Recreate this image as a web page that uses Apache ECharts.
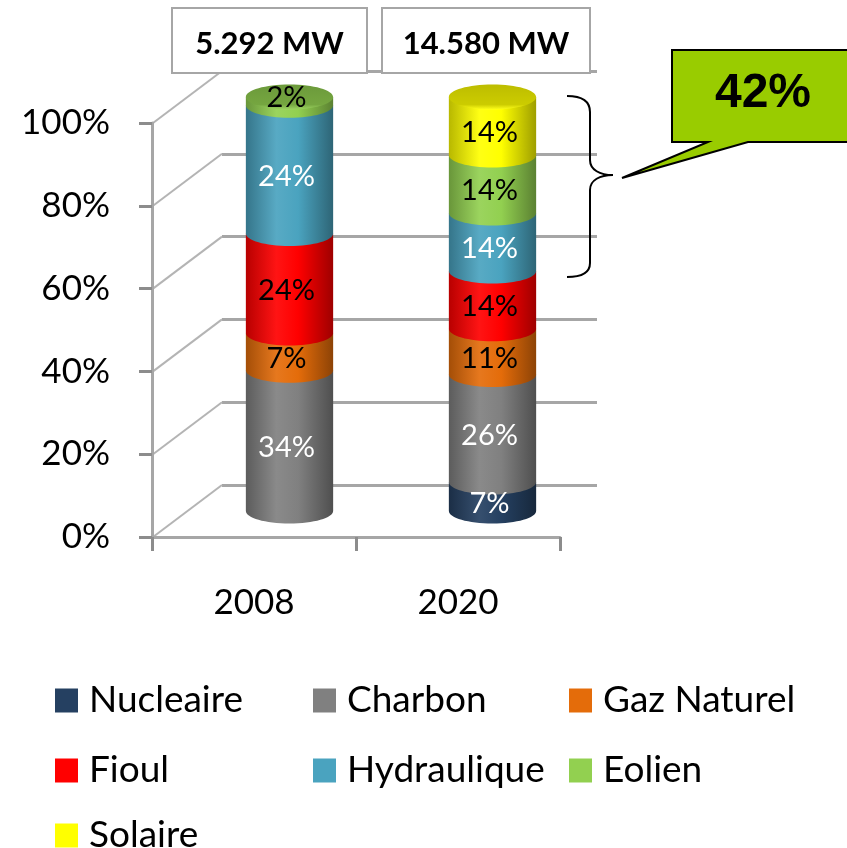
<!DOCTYPE html>
<html>
<head>
<meta charset="utf-8">
<script src="https://cdn.jsdelivr.net/npm/echarts@6/dist/echarts.min.js"></script>
<style>
html, body { margin: 0; padding: 0; background: #fff; }
#main { width: 847px; height: 848px; }
</style>
</head>
<body>
<div id="main"></div>
<script>
var years = ['2008', '2020'];
var sources = ['Nucleaire', 'Charbon', 'Gaz Naturel', 'Fioul', 'Hydraulique', 'Eolien', 'Solaire'];

// height of each slice (% of the bar)
var nucleaire   = [0, 7];
var charbon     = [34, 26];
var gazNaturel  = [9, 11];
var fioul       = [24, 14];
var hydraulique = [31, 14];
var eolien      = [2, 14];
var solaire     = [0, 14];

// percentages printed on the slices
var labels2008 = ['', '34%', '7%', '24%', '24%', '2%', ''];
var labels2020 = ['7%', '26%', '11%', '14%', '14%', '14%', '14%'];

var capacity = ['5.292 MW', '14.580 MW'];
var yTicks = [0, 20, 40, 60, 80, 100];

var colors = ['#254061', '#808080', '#e46c0a', '#ff0000', '#4aa3bf', '#92d050', '#ffff00'];
var labelColors = ['#fff', '#fff', '#000', '#000', '#fff', '#000', '#000'];

var seriesValues = [nucleaire, charbon, gazNaturel, fioul, hydraulique, eolien, solaire];
var printed = [labels2008, labels2020];
var totals = years.map(function (y, j) {
    return seriesValues.reduce(function (s, a) { return s + a[j]; }, 0);
});
var renew2020 = hydraulique[1] + eolien[1] + solaire[1];

function mix(hex, target, t) {
    var n = parseInt(hex.slice(1), 16);
    var c = [(n >> 16) & 255, (n >> 8) & 255, n & 255].map(function (v) {
        return Math.round(v + (target - v) * t);
    });
    return 'rgb(' + c.join(',') + ')';
}
function shade(hex, f) { return mix(hex, 0, 1 - f); }
function light(hex, t) { return mix(hex, 255, t); }

var K = 0.5523;
function bodyPath(cx, yTop, yBot, rx, ry) {
    return 'M' + (cx - rx) + ',' + yTop + ' L' + (cx - rx) + ',' + yBot +
        ' C' + (cx - rx) + ',' + (yBot + K * ry) + ' ' + (cx - K * rx) + ',' + (yBot + ry) + ' ' + cx + ',' + (yBot + ry) +
        ' C' + (cx + K * rx) + ',' + (yBot + ry) + ' ' + (cx + rx) + ',' + (yBot + K * ry) + ' ' + (cx + rx) + ',' + yBot +
        ' L' + (cx + rx) + ',' + yTop + ' Z';
}
function ellipsePath(cx, cy, rx, ry) {
    return 'M' + (cx - rx) + ',' + cy +
        ' C' + (cx - rx) + ',' + (cy - K * ry) + ' ' + (cx - K * rx) + ',' + (cy - ry) + ' ' + cx + ',' + (cy - ry) +
        ' C' + (cx + K * rx) + ',' + (cy - ry) + ' ' + (cx + rx) + ',' + (cy - K * ry) + ' ' + (cx + rx) + ',' + cy +
        ' C' + (cx + rx) + ',' + (cy + K * ry) + ' ' + (cx + K * rx) + ',' + (cy + ry) + ' ' + cx + ',' + (cy + ry) +
        ' C' + (cx - K * rx) + ',' + (cy + ry) + ' ' + (cx - rx) + ',' + (cy + K * ry) + ' ' + (cx - rx) + ',' + cy + ' Z';
}

function makeRender(i) {
    return function (params, api) {
        var j = api.value(0), lo = api.value(1), hi = api.value(2);
        if (hi - lo <= 0) return null;
        var pLo = api.coord([j, lo]);
        var pHi = api.coord([j, hi]);
        var rx = api.size([1, 0])[0] * 0.215;
        var ry = 12.5;
        var cx = pLo[0];
        var c = colors[i];
        var grad = new echarts.graphic.LinearGradient(0, 0, 1, 0, [
            { offset: 0, color: shade(c, 0.72) },
            { offset: 0.35, color: light(c, 0.08) },
            { offset: 0.6, color: c },
            { offset: 1, color: shade(c, 0.62) }
        ]);
        var kids = [{
            type: 'path',
            shape: { pathData: bodyPath(cx, pHi[1], pLo[1], rx, ry) },
            style: { fill: grad }
        }];
        if (hi >= totals[j] - 0.001) {
            kids.push({
                type: 'path',
                shape: { pathData: ellipsePath(cx, pHi[1], rx, ry) },
                style: {
                    fill: new echarts.graphic.LinearGradient(0, 0, 0, 1, [
                        { offset: 0, color: shade(c, 0.74) },
                        { offset: 0.8, color: shade(c, 0.8) },
                        { offset: 1, color: light(c, 0.1) }
                    ])
                }
            });
        }
        var txt = printed[j][i];
        if (txt) {
            var h = pLo[1] - pHi[1];
            kids.push({
                type: 'text',
                z2: 100,
                x: cx - 3,
                y: h < 20 ? pHi[1] + 1 : (pLo[1] + pHi[1]) / 2 + 7,
                style: {
                    text: txt, fill: labelColors[i],
                    fontSize: 29, fontFamily: 'Lato',
                    align: 'center', verticalAlign: 'middle'
                }
            });
        }
        return { type: 'group', children: kids };
    };
}

var series = sources.map(function (name, i) {
    var data = years.map(function (y, j) {
        var lo = 0;
        for (var k = 0; k < i; k++) lo += seriesValues[k][j];
        return [j, lo, lo + seriesValues[i][j]];
    });
    return {
        type: 'custom',
        name: name,
        xAxisIndex: 1,
        yAxisIndex: 1,
        itemStyle: { color: colors[i] },
        encode: { x: 0, y: [1, 2] },
        renderItem: makeRender(i),
        data: data
    };
});

var legendPos = [[55, 697], [313, 697], [569, 697], [55, 767], [313, 767], [569, 767], [55, 832]];
var legends = sources.map(function (s, i) {
    return {
        data: [s],
        left: legendPos[i][0],
        top: legendPos[i][1] - 15,
        padding: 0,
        itemWidth: 23,
        itemHeight: 24,
        icon: 'rect',
        selectedMode: false,
        textStyle: { fontSize: 37, fontFamily: 'Lato', color: '#000', lineHeight: 24, padding: [0, 0, 0, 6] }
    };
});

var gray = '#a6a6a6';
var chart = echarts.init(document.getElementById('main'));
chart.setOption({
    animation: false,
    backgroundColor: '#fff',
    grid: [
        { left: 152, top: 123, width: 408, height: 414, outerBoundsMode: 'none' },   // front plane (axes)
        { left: 188, top: 97, width: 406, height: 414, outerBoundsMode: 'none' },    // cylinders
        { left: 222, top: 71, width: 375, height: 414, outerBoundsMode: 'none' }     // back wall
    ],
    xAxis: [
        {
            gridIndex: 0, type: 'category', data: years,
            axisLine: { show: true, lineStyle: { color: gray, width: 3 } },
            axisTick: { show: true, length: 14, lineStyle: { color: '#8c8c8c', width: 3 } },
            axisLabel: { fontSize: 35, fontFamily: 'Lato', color: '#000', margin: 48 }
        },
        { gridIndex: 1, type: 'category', data: years, show: false },
        { gridIndex: 2, type: 'category', data: years, show: false }
    ],
    yAxis: [
        {
            gridIndex: 0, type: 'value', min: 0, max: 100, interval: 20,
            axisLine: { show: true, lineStyle: { color: gray, width: 3 } },
            axisTick: { show: true, length: 13, lineStyle: { color: '#8c8c8c', width: 3 } },
            axisLabel: { formatter: '{value}%', fontSize: 35, fontFamily: 'Lato', color: '#000', margin: 42 },
            splitLine: { show: false }
        },
        { gridIndex: 1, type: 'value', min: 0, max: 100, show: false },
        {
            gridIndex: 2, type: 'value', min: 0, max: 100, interval: 20,
            axisLine: { show: false }, axisTick: { show: false }, axisLabel: { show: false },
            splitLine: { show: true, lineStyle: { color: gray, width: 3 } }
        }
    ],
    legend: legends,
    series: series
});

// left wall + floor diagonals, boxes, brace and callout
var graphics = yTicks.map(function (v) {
    var yf = chart.convertToPixel({ yAxisIndex: 0 }, v);
    var yb = chart.convertToPixel({ yAxisIndex: 2 }, v);
    return {
        type: 'line',
        shape: { x1: 153, y1: yf, x2: 222, y2: yb },
        style: { stroke: '#b4b4b4', lineWidth: 2 }
    };
});
var boxes = [[172, 195], [382, 208]];
capacity.forEach(function (t, j) {
    graphics.push({
        type: 'rect', z: 10,
        shape: { x: boxes[j][0], y: 8, width: boxes[j][1], height: 65 },
        style: { fill: '#fff', stroke: gray, lineWidth: 2 }
    });
    graphics.push({
        type: 'text', z: 11,
        x: boxes[j][0] + boxes[j][1] / 2, y: 44,
        style: { text: t, fontSize: 31, fontWeight: 'bold', fontFamily: 'Lato', fill: '#000', align: 'center', verticalAlign: 'middle' }
    });
});
// curly brace over the renewables of 2020
var braceCurves = [
    [567, 96, 581, 96, 590, 100, 590, 112],
    [590, 160, 590, 170, 600, 175, 613, 175],
    [613, 175, 600, 175, 590, 180, 590, 190],
    [590, 263, 590, 273, 581, 277, 567, 277]
];
braceCurves.forEach(function (b) {
    graphics.push({
        type: 'bezierCurve', z: 10,
        shape: { x1: b[0], y1: b[1], cpx1: b[2], cpy1: b[3], cpx2: b[4], cpy2: b[5], x2: b[6], y2: b[7] },
        style: { fill: null, stroke: '#000', lineWidth: 2 }
    });
});
[[112, 160], [190, 263]].forEach(function (s) {
    graphics.push({
        type: 'line', z: 10,
        shape: { x1: 590, y1: s[0], x2: 590, y2: s[1] },
        style: { stroke: '#000', lineWidth: 2 }
    });
});
graphics.push({
    type: 'polygon', z: 10,
    shape: { points: [[672, 50], [852, 50], [852, 142], [748, 142], [622, 178], [708, 142], [672, 142]] },
    style: { fill: '#99cc00', stroke: '#000', lineWidth: 2 }
});
graphics.push({
    type: 'text', z: 11,
    x: 763, y: 94,
    style: { text: renew2020 + '%', fontSize: 48, fontWeight: 'bold', fontFamily: 'Liberation Sans', fill: '#000', align: 'center', verticalAlign: 'middle' }
});
chart.setOption({ graphic: graphics });
</script>
</body>
</html>
